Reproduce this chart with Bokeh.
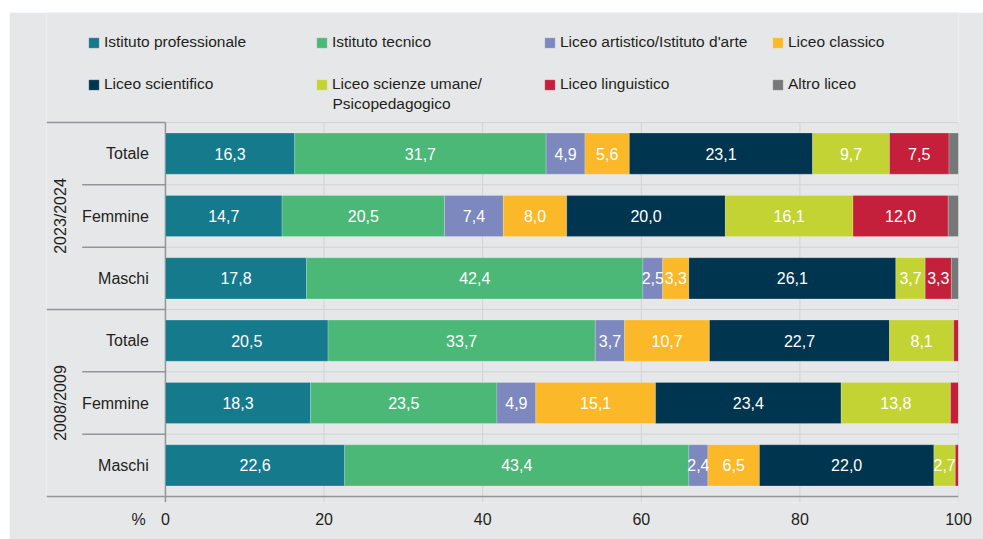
import math
from bokeh.plotting import figure
from bokeh.models import (Range1d, FixedTicker, Legend, LegendItem, ColumnDataSource)
from bokeh.core.properties import value
from bokeh.embed import file_html
from bokeh.resources import INLINE

# ---------------- data ----------------
years = ["2023/2024", "2008/2009"]
rows = ["Totale", "Femmine", "Maschi", "Totale", "Femmine", "Maschi"]
series = ["Istituto professionale", "Istituto tecnico", "Liceo artistico/Istituto d'arte",
          "Liceo classico", "Liceo scientifico", "Liceo scienze umane/",
          "Liceo linguistico", "Altro liceo"]
series_extra_line = "Psicopedagogico"   # second line of the 6th legend entry
keys = ["prof", "tecn", "arti", "clas", "scie", "uman", "ling", "altr"]
colors = ["#167a8d", "#4cb878", "#7c88be", "#fbb829", "#003550", "#c3d333", "#c4203b", "#757779"]

prof = [16.3, 14.7, 17.8, 20.5, 18.3, 22.6]
tecn = [31.7, 20.5, 42.4, 33.7, 23.5, 43.4]
arti = [4.9, 7.4, 2.5, 3.7, 4.9, 2.4]
clas = [5.6, 8.0, 3.3, 10.7, 15.1, 6.5]
scie = [23.1, 20.0, 26.1, 22.7, 23.4, 22.0]
uman = [9.7, 16.1, 3.7, 8.1, 13.8, 2.7]
ling = [7.5, 12.0, 3.3, 0.6, 1.0, 0.4]
altr = [1.2, 1.3, 0.9, 0.0, 0.0, 0.0]
ticks = [0, 20, 40, 60, 80, 100]
unit_label = "%"

values = [prof, tecn, arti, clas, scie, uman, ling, altr]

FONT = "Liberation Sans"
FS = "16px"
LFS = "15.5px"
TXT = "#231f20"
BG = "#e6e7e8"
GRID = "#d1d3d4"
DARK = "#939598"

W, H = 974, 527
BL, BR, BB = 37, 25, 37
PX = 374 / 6.0            # pixels per row
TOP = 110 / PX             # room above the rows (legend)
TICK = 6 / PX              # tick length below the rows
XL = -15.0                 # left edge (room for row labels)
XPX = (W - BL - BR) / (ticks[-1] - XL)

# legend geometry (pixels)
LG_X, LG_TOP = 41, 19
GLW, STAND, LBW, SPC, LBH = 13, 4, 191, 20, 22

ypos = [i + 0.5 for i in range(len(rows))]
data = {"y": ypos}
for k, v in zip(keys, values):
    data[k] = v
src = ColumnDataSource(data)

nb = len(rows)
p = figure(width=W, height=H, output_backend="svg", toolbar_location=None,
           x_range=Range1d(XL, ticks[-1]), y_range=Range1d(nb + TICK, -TOP),
           y_axis_location=None, min_border_left=BL, min_border_right=BR,
           min_border_top=0, min_border_bottom=BB)
p.margin = (12, 0, 0, 9)
p.background_fill_color = BG
p.border_fill_color = BG
p.outline_line_color = None
p.xgrid.visible = False
p.ygrid.visible = False

# vertical grid lines (extend a tick length below the rows)
gt = ticks[1:]
p.segment(x0=gt, x1=gt, y0=[0] * len(gt), y1=[nb + TICK] * len(gt),
          line_color=GRID, line_width=1)
# horizontal separators
p.segment(x0=[ticks[0]] * nb, x1=[ticks[-1]] * nb, y0=list(range(nb)), y1=list(range(nb)),
          line_color=GRID, line_width=1)
grp_b = [0, 3]
sub_b = [1, 2, 4, 5]
p.segment(x0=[XL] * len(grp_b), x1=[0] * len(grp_b), y0=grp_b, y1=grp_b,
          line_color=DARK, line_width=1.5)
p.segment(x0=[-10.5] * len(sub_b), x1=[0] * len(sub_b), y0=sub_b, y1=sub_b,
          line_color=DARK, line_width=1.5)
# axis line (bottom) and the zero line with its tick
p.segment(x0=[XL], x1=[ticks[-1]], y0=[nb], y1=[nb], line_color=DARK, line_width=1.5)
p.segment(x0=[0], x1=[0], y0=[0], y1=[nb + TICK], line_color=DARK, line_width=1.5)

rs = p.hbar_stack(keys, y="y", height=0.66, color=colors, source=src,
                  line_color="white", line_alpha=0.25, line_width=0.8)

# value labels
lx, ly, lt = [], [], []
for i in range(len(rows)):
    left = 0.0
    for k, v in zip(keys, values):
        if k != "altr" and v[i] >= 2:
            lx.append(left + v[i] / 2)
            ly.append(ypos[i])
            lt.append(f"{v[i]:.1f}".replace(".", ","))
        left += v[i]
p.text(x=lx, y=ly, text=lt, text_color="white", text_font=value(FONT),
       text_font_size=FS, text_align="center", text_baseline="middle")

# category labels
p.text(x=[-2.1] * len(rows), y=ypos, text=rows, text_color=TXT, text_font=value(FONT),
       text_font_size=FS, text_align="right", text_baseline="middle")
# year labels
p.text(x=[-13.2] * len(years), y=[1.5, 4.5], text=years, angle=math.pi / 2,
       text_color=TXT, text_font=value(FONT), text_font_size=FS,
       text_align="center", text_baseline="middle")

# x axis (labels only; line and ticks drawn above)
ax = p.xaxis[0]
pct_x = -3.4
ax.ticker = FixedTicker(ticks=[pct_x] + ticks)
ax.major_label_overrides = {pct_x: unit_label}
ax.axis_line_color = None
ax.major_tick_line_color = None
ax.major_tick_in = 0
ax.major_tick_out = 0
ax.minor_tick_line_color = None
ax.major_label_text_font = FONT
ax.major_label_text_font_size = FS
ax.major_label_text_color = TXT
ax.major_label_standoff = 8

frame_h = H - BB
leg_h = 2 * LBH + SPC
legend = Legend(items=[LegendItem(label=s, renderers=[r]) for s, r in zip(series, rs)],
                location=(LG_X, frame_h - LG_TOP - leg_h), orientation="horizontal", ncols=4,
                glyph_width=GLW, glyph_height=GLW, label_standoff=STAND,
                label_width=LBW, label_height=LBH, spacing=SPC,
                padding=0, margin=0, background_fill_alpha=0, border_line_color=None,
                label_text_font=FONT, label_text_font_size=LFS, label_text_color=TXT)
p.add_layout(legend, "center")

# second line of the "Liceo scienze umane/" entry (column 2, row 2)
col_pitch = GLW + STAND + LBW + SPC
x_txt_px = LG_X + col_pitch + GLW + STAND
y_txt_px = LG_TOP + LBH + SPC + LBH / 2 + 19
p.text(x=[XL + x_txt_px / XPX], y=[-TOP + y_txt_px / PX], text=[series_extra_line],
       text_color=TXT, text_font=value(FONT), text_font_size=LFS,
       text_align="left", text_baseline="middle")

open("out.html", "w").write(file_html(p, INLINE))
